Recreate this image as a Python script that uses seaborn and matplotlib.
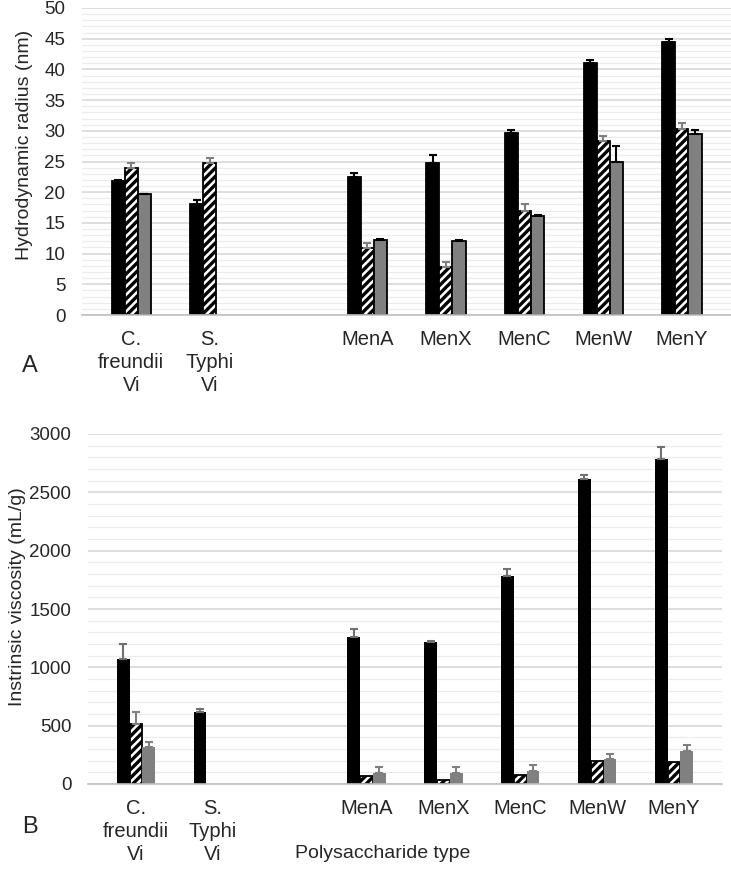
import numpy as np
import pandas as pd
import seaborn as sns
import matplotlib
matplotlib.use("Agg")
import matplotlib.pyplot as plt
from matplotlib.ticker import MultipleLocator

# categories (the empty one is a blank slot on the axis)
cats = ["C.\nfreundii\nVi", "S.\nTyphi\nVi", "", "MenA", "MenX", "MenC", "MenW", "MenY"]
series = ["s1", "s2", "s3"]
nan = np.nan

# A: hydrodynamic radius (nm)
rad_s1 = [21.8, 18.1, nan, 22.5, 24.7, 29.7, 41.0, 44.4]
rad_s1_err = [0.2, 0.7, nan, 0.7, 1.3, 0.4, 0.6, 0.55]
rad_s2 = [23.9, 24.7, nan, 10.9, 7.8, 16.9, 28.3, 30.3]
rad_s2_err = [0.9, 0.9, nan, 0.9, 0.9, 1.1, 0.9, 1.0]
rad_s3 = [19.65, nan, nan, 12.2, 12.05, 16.2, 25.0, 29.4]
rad_s3_err = [0.05, nan, nan, 0.1, 0.1, 0.05, 2.5, 0.8]

# B: intrinsic viscosity (mL/g)
vis_s1 = [1074, 620, nan, 1263, 1220, 1783, 2611, 2786]
vis_s1_err = [123, 20, nan, 63, 10, 57, 35, 100]
vis_s2 = [517, nan, nan, 71, 34, 77, 200, 191]
vis_s2_err = [103, nan, nan, nan, nan, nan, nan, nan]
vis_s3 = [320, nan, nan, 91, 97, 111, 211, 283]
vis_s3_err = [43, nan, nan, 52, 52, 52, 46, 48]


def long_df(vals, errs):
    rows = []
    for s, v, e in zip(series, vals, errs):
        for c, vi, ei in zip(cats, v, e):
            if not np.isnan(vi):
                rows.append({"cat": c, "series": s, "val": vi, "err": ei})
    return pd.DataFrame(rows)


sns.set_style("white")
plt.rcParams["font.family"] = ["Liberation Sans", "DejaVu Sans"]
plt.rcParams["hatch.linewidth"] = 2.4

fig = plt.figure(figsize=(7.31, 8.73), dpi=100)
W, H = 731, 873


def draw(ax, df, step, minor, top, ylabel, err_colors, edges):
    palette = {"s1": "black", "s2": "white", "s3": "#808080"}
    sns.barplot(data=df, x="cat", y="val", hue="series", order=cats,
                hue_order=series, palette=palette, width=0.5, gap=0,
                errorbar=None, legend=False, ax=ax, zorder=2)
    for cont, s in zip(ax.containers, series):
        for bar in cont:
            h = bar.get_height()
            if np.isnan(h):
                continue
            xc = bar.get_x() + bar.get_width() / 2
            c = cats[int(round(xc))]
            row = df[(df["cat"] == c) & (df["series"] == s)].iloc[0]
            if edges[s]:
                bar.set_edgecolor("black")
                bar.set_linewidth(1.3)
            else:
                bar.set_edgecolor("none")
            if s == "s2":
                bar.set_hatch("////")
            if not np.isnan(row["err"]):
                ax.errorbar(xc, h, yerr=[[0], [row["err"]]], fmt="none",
                            ecolor=err_colors[s], elinewidth=1.5,
                            capsize=3, capthick=1.5, zorder=3)
    ax.set_ylim(0, top)
    ax.yaxis.set_major_locator(MultipleLocator(step))
    ax.yaxis.set_minor_locator(MultipleLocator(minor))
    ax.set_axisbelow(True)
    ax.grid(axis="y", which="major", color="#d4d4d4", lw=1.1)
    ax.grid(axis="y", which="minor", color="#ececec", lw=0.9)
    for sp in ["top", "right", "left"]:
        ax.spines[sp].set_visible(False)
    ax.spines["bottom"].set_color("#c0c0c0")
    ax.spines["bottom"].set_linewidth(1.2)
    ax.tick_params(axis="y", length=0, labelsize=13.5, pad=12)
    ax.tick_params(axis="x", length=0, labelsize=14.5, pad=11)
    ax.tick_params(axis="y", which="minor", length=0)
    for t in ax.get_xticklabels():
        t.set_linespacing(1.25)
    ax.set_ylabel(ylabel, fontsize=14)
    ax.set_xlabel("")


ax1 = fig.add_axes([82 / W, 1 - 315 / H, 649 / W, 307 / H])
draw(ax1, long_df([rad_s1, rad_s2, rad_s3], [rad_s1_err, rad_s2_err, rad_s3_err]),
     5, 1, 50, "Hydrodynamic radius (nm)",
     {"s1": "black", "s2": "#808080", "s3": "black"},
     {"s1": True, "s2": True, "s3": True})
ax1.yaxis.set_label_coords((33 - 82) / 649, (315 - 145) / 307)

ax2 = fig.add_axes([88 / W, 1 - 784 / H, 634 / W, 350 / H])
draw(ax2, long_df([vis_s1, vis_s2, vis_s3], [vis_s1_err, vis_s2_err, vis_s3_err]),
     500, 100, 3000, "Instrinsic viscosity (mL/g)",
     {"s1": "#707070", "s2": "#808080", "s3": "#808080"},
     {"s1": False, "s2": True, "s3": False})
ax2.yaxis.set_label_coords((26 - 88) / 634, (784 - 597) / 350)
ax2.set_xlabel("Polysaccharide type", fontsize=14)
ax2.xaxis.set_label_coords((383 - 88) / 634, (784 - 853) / 350)
ax2.xaxis.label.set_va("center")

fig.text(30 / W, 1 - 366 / H, "A", fontsize=17, ha="center", va="center")
fig.text(30 / W, 1 - 827 / H, "B", fontsize=17, ha="center", va="center")

fig.savefig("out.png", dpi=100)
